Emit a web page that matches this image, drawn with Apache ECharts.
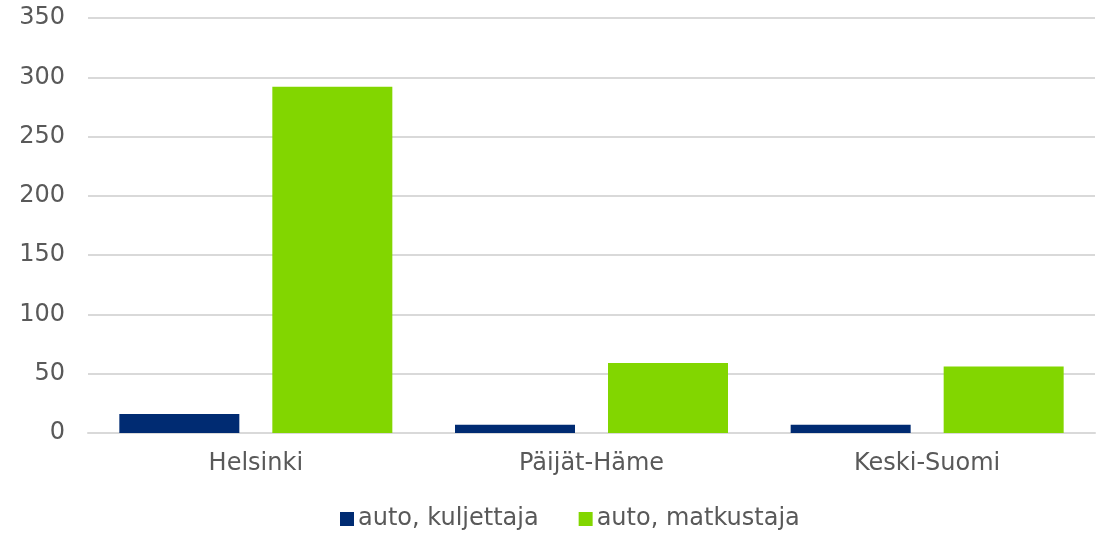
<!DOCTYPE html>
<html>
<head>
<meta charset="utf-8">
<script src="https://cdn.jsdelivr.net/npm/echarts@6/dist/echarts.min.js"></script>
<style>
  html, body { margin: 0; padding: 0; background: #fff; }
  #chart { width: 1107px; height: 533px; }
</style>
</head>
<body>
<div id="chart"></div>
<script>
const categories = ["Helsinki", "Päijät-Häme", "Keski-Suomi"];
const seriesNames = ["auto, kuljettaja", "auto, matkustaja"];
const kuljettaja = [16, 7, 7];
const matkustaja = [292, 59, 56];
const yTicks = { min: 0, max: 350, interval: 50 };

const font = "DejaVu Sans, Verdana, sans-serif";
const textColor = "#595959";

const chart = echarts.init(document.getElementById("chart"));
const option = {
  animation: false,
  grid: { left: 88, right: 12, top: 18, bottom: 100 },
  legend: {
    left: 335,
    top: 502,
    itemWidth: 14,
    itemHeight: 14,
    itemGap: 40,
    icon: "rect",
    textStyle: { fontFamily: font, fontSize: 24, color: textColor, padding: [0, 0, 0, -1] },
    data: seriesNames
  },
  xAxis: {
    type: "category",
    data: categories,
    axisTick: { show: false },
    axisLine: { lineStyle: { color: "#d9d9d9", width: 2 } },
    axisLabel: { fontFamily: font, fontSize: 24, color: textColor, margin: 19 }
  },
  yAxis: {
    type: "value",
    min: yTicks.min,
    max: yTicks.max,
    interval: yTicks.interval,
    axisLine: { show: false },
    axisTick: { show: false },
    splitLine: { lineStyle: { color: "#d9d9d9", width: 2 } },
    axisLabel: { fontFamily: font, fontSize: 24, color: textColor, margin: 23 }
  },
  series: [
    {
      name: seriesNames[0],
      type: "bar",
      data: kuljettaja,
      barWidth: 120,
      barGap: "27.5%",
      itemStyle: { color: "#002b72" }
    },
    {
      name: seriesNames[1],
      type: "bar",
      data: matkustaja,
      barWidth: 120,
      itemStyle: { color: "#82d600" }
    }
  ]
};
chart.setOption(option);
</script>
</body>
</html>
